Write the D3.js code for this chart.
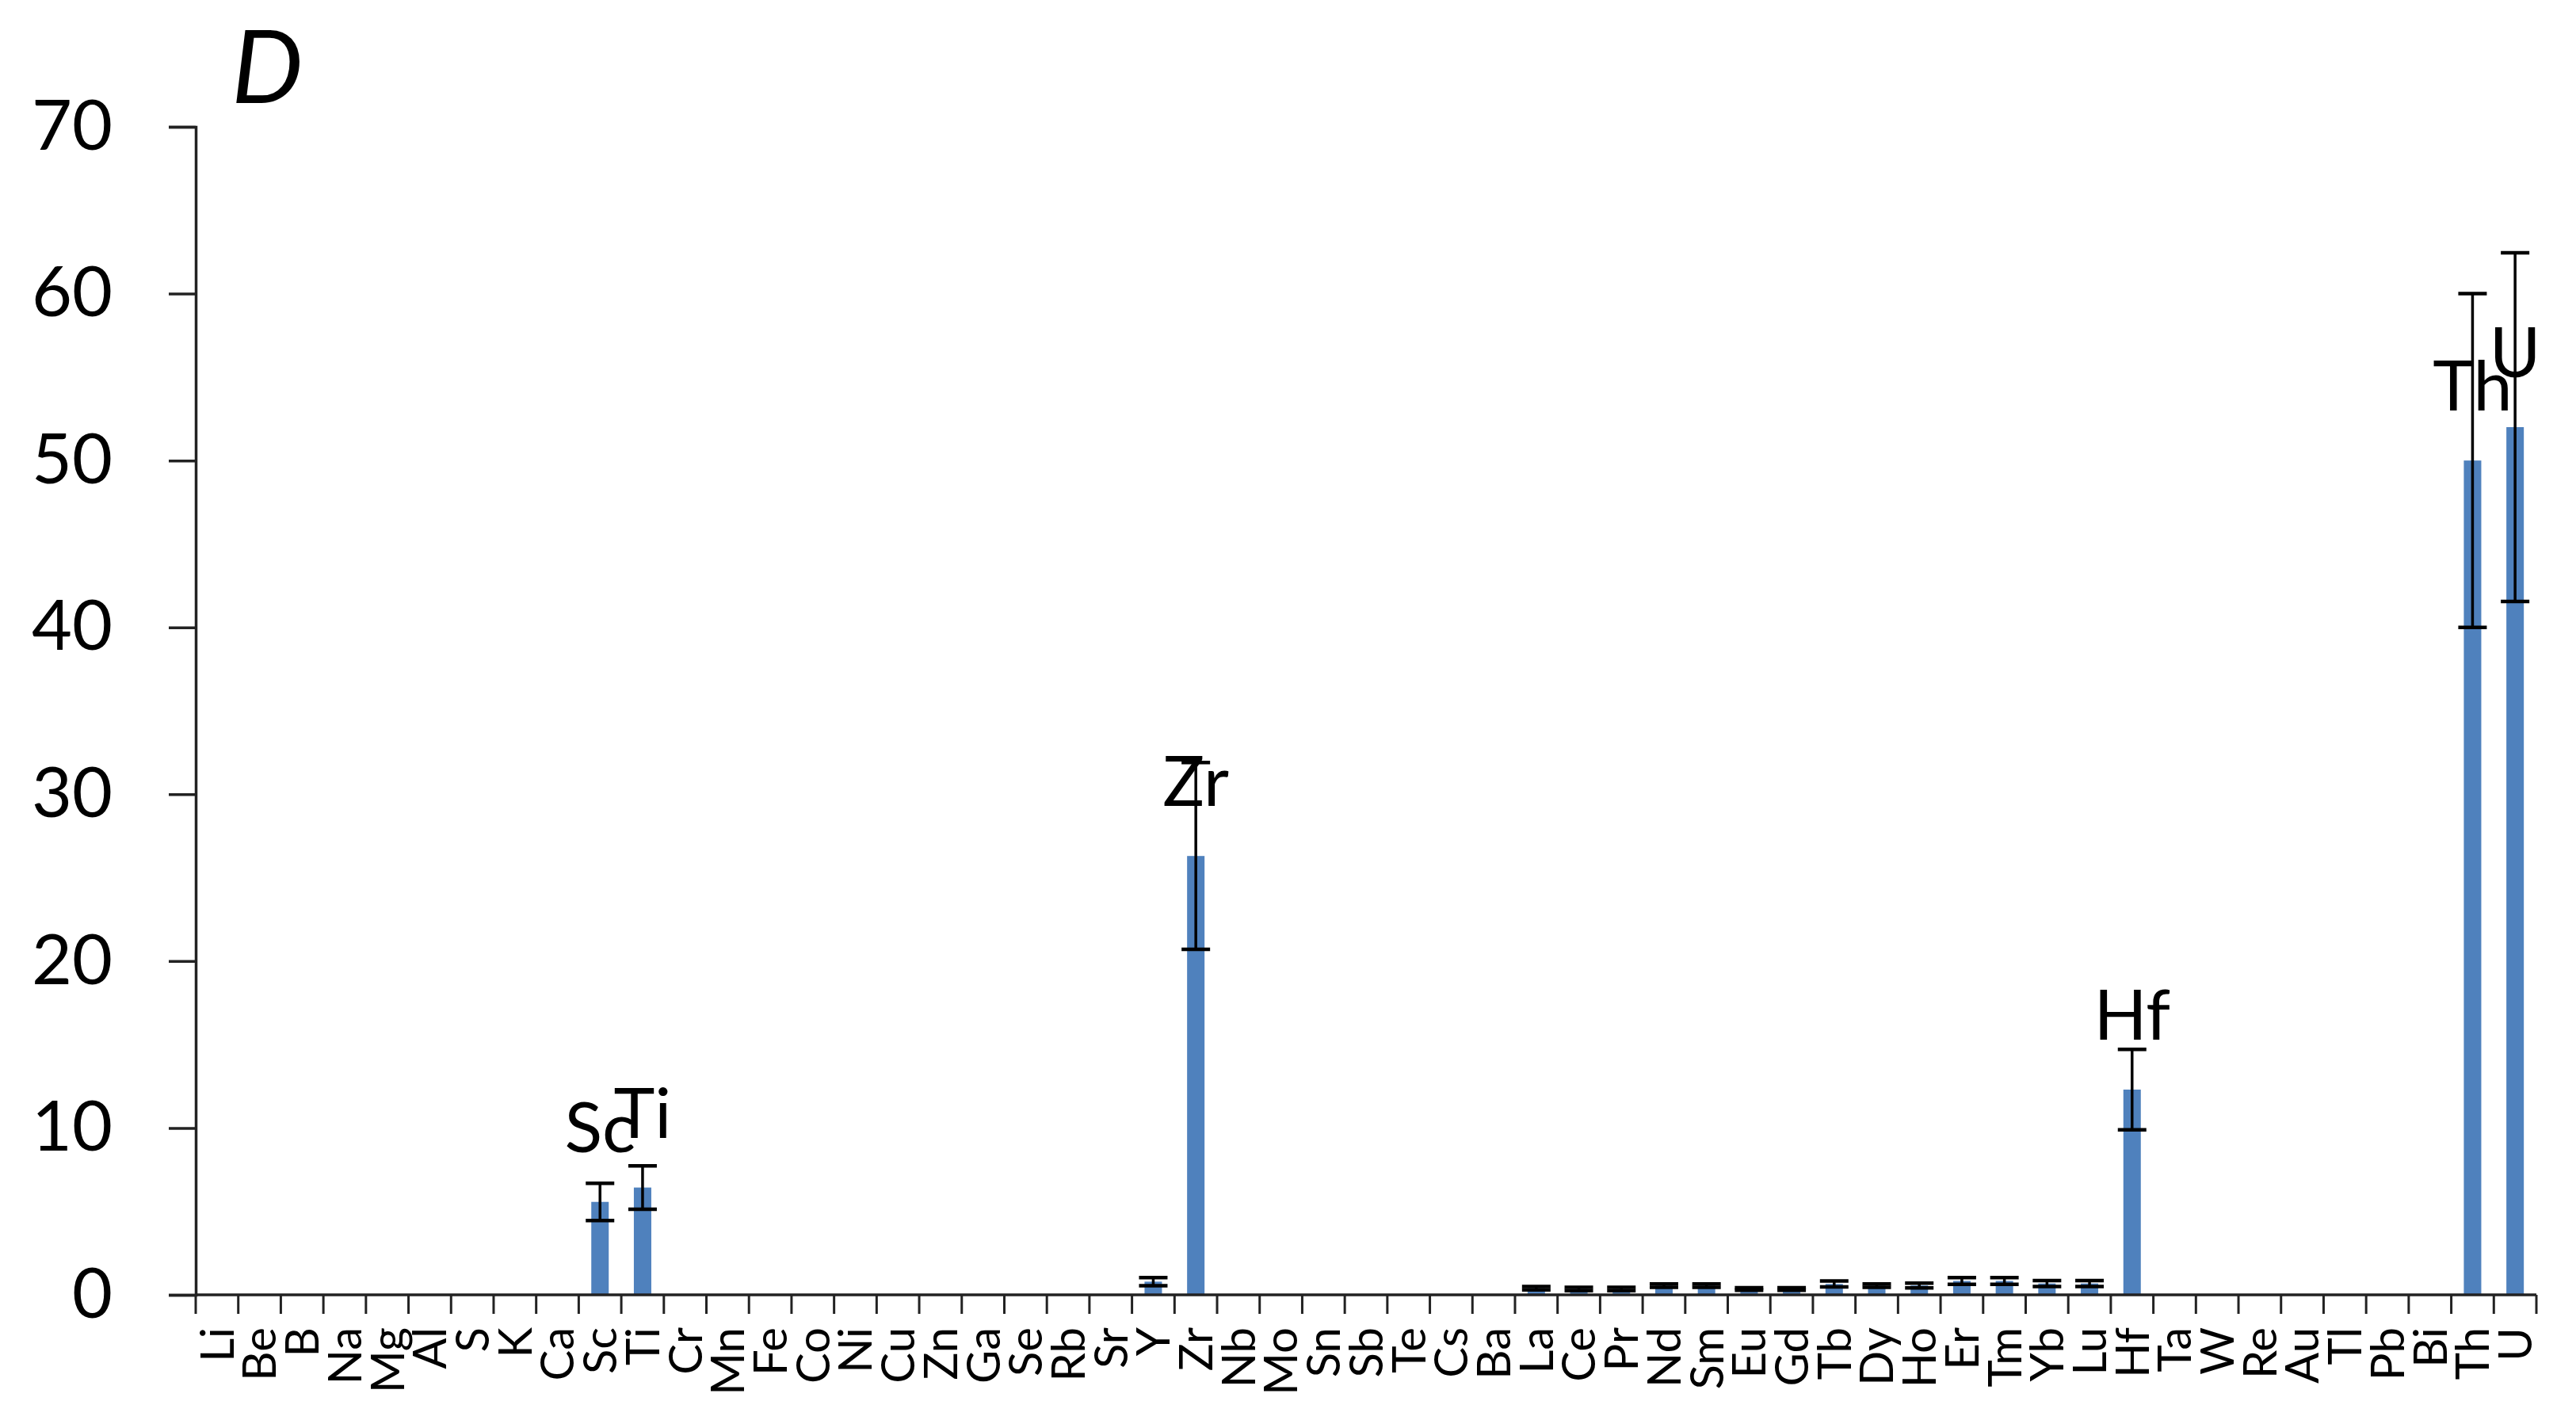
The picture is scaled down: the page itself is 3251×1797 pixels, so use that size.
<!DOCTYPE html>
<html>
<head>
<meta charset="utf-8">
<script src="https://cdn.jsdelivr.net/npm/d3@7"></script>
<style>
  html, body { margin: 0; padding: 0; background: #fff; }
  svg { display: block; }
  text { font-family: Lato, "Open Sans", sans-serif; fill: #000; }
</style>
</head>
<body>
<svg id="chart" width="3251" height="1797"></svg>
<script>
// ---- data ----
const categories = ["Li","Be","B","Na","Mg","Al","S","K","Ca","Sc","Ti","Cr","Mn","Fe","Co","Ni","Cu","Zn","Ga","Se","Rb","Sr","Y","Zr","Nb","Mo","Sn","Sb","Te","Cs","Ba","La","Ce","Pr","Nd","Sm","Eu","Gd","Tb","Dy","Ho","Er","Tm","Yb","Lu","Hf","Ta","W","Re","Au","Tl","Pb","Bi","Th","U"];
const values = [0,0,0,0,0,0,0,0,0,5.57,6.43,0,0,0,0,0,0,0,0,0,0,0,0.79,26.3,0,0,0,0,0,0,0,0.4,0.35,0.35,0.55,0.55,0.35,0.35,0.65,0.55,0.56,0.83,0.83,0.68,0.68,12.3,0,0,0,0,0,0,0,50,52];
const errors = [0,0,0,0,0,0,0,0,0,1.12,1.3,0,0,0,0,0,0,0,0,0,0,0,0.24,5.6,0,0,0,0,0,0,0,0.1,0.1,0.1,0.1,0.1,0.08,0.08,0.18,0.1,0.14,0.2,0.2,0.18,0.18,2.41,0,0,0,0,0,0,0,10,10.45];
const labeled = ["Sc","Ti","Zr","Hf","Th","U"];
const yTicks = [0,10,20,30,40,50,60,70];
const panelTitle = "D";

(function () {
// ---- layout ----
const mLeft = 247, mRight = 3201, mTop = 160, mBottom = 1634;
const svg = d3.select("#chart");

const x = d3.scaleBand().domain(categories).range([mLeft, mRight])
  .paddingInner(0.59).paddingOuter(0.295);
const y = d3.scaleLinear().domain([0, 70]).range([mBottom, mTop]);
const step = x.step();
const slotStart = c => x(c) - x.paddingOuter() * step;
const center = c => x(c) + x.bandwidth() / 2;

const data = categories.map((c, i) => ({ c, v: values[i], e: errors[i] }));

// bars
svg.append("g").selectAll("rect").data(data.filter(d => d.v > 0)).join("rect")
  .attr("x", d => x(d.c))
  .attr("width", x.bandwidth())
  .attr("y", d => y(d.v))
  .attr("height", d => y(0) - y(d.v))
  .attr("fill", "#4F81BD");

// error bars
const eb = svg.append("g").attr("stroke", "#000");
const ed = data.filter(d => d.e > 0);
eb.selectAll("line.v").data(ed).join("line").attr("class", "v")
  .attr("x1", d => center(d.c)).attr("x2", d => center(d.c))
  .attr("y1", d => y(d.v + d.e)).attr("y2", d => y(d.v - d.e))
  .attr("stroke-width", 3.5);
eb.selectAll("line.t").data(ed).join("line").attr("class", "t")
  .attr("x1", d => center(d.c) - 18).attr("x2", d => center(d.c) + 18)
  .attr("y1", d => y(d.v + d.e)).attr("y2", d => y(d.v + d.e))
  .attr("stroke-width", 4.5);
eb.selectAll("line.b").data(ed).join("line").attr("class", "b")
  .attr("x1", d => center(d.c) - 18).attr("x2", d => center(d.c) + 18)
  .attr("y1", d => y(d.v - d.e)).attr("y2", d => y(d.v - d.e))
  .attr("stroke-width", 4.5);

// data labels
svg.append("g").selectAll("text").data(data.filter(d => labeled.includes(d.c))).join("text")
  .attr("x", d => center(d.c))
  .attr("y", d => y(d.v) - 63)
  .attr("text-anchor", "middle")
  .attr("font-size", 88)
  .text(d => d.c);

// y axis
const yAxis = d3.axisLeft(y).tickValues(yTicks).tickSize(34).tickPadding(71);
const gy = svg.append("g").attr("transform", `translate(${mLeft},0)`).call(yAxis);
gy.select(".domain").attr("stroke", "#222").attr("stroke-width", 3.5);
gy.selectAll(".tick line").attr("stroke", "#222").attr("stroke-width", 3.5);
gy.selectAll(".tick text").attr("font-size", 88).attr("font-family", "Lato").attr("fill", "#000");

// x axis line
svg.append("line").attr("x1", mLeft).attr("x2", mRight)
  .attr("y1", y(0)).attr("y2", y(0)).attr("stroke", "#222").attr("stroke-width", 3.5);
// category boundary ticks
const bounds = categories.map(c => slotStart(c)).concat([mRight]);
svg.append("g").selectAll("line").data(bounds).join("line")
  .attr("x1", d => d).attr("x2", d => d)
  .attr("y1", y(0)).attr("y2", y(0) + 24)
  .attr("stroke", "#222").attr("stroke-width", 3);

// category labels
svg.append("g").selectAll("text").data(categories).join("text")
  .attr("transform", c => `translate(${center(c)},${y(0) + 41}) rotate(-90)`)
  .attr("text-anchor", "end")
  .attr("dy", "0.36em")
  .attr("font-size", 58)
  .text(c => c);

// panel title
svg.append("text").attr("x", 292).attr("y", 130)
  .attr("font-size", 128).attr("font-style", "italic")
  .text(panelTitle);
})();
</script>
</body>
</html>
